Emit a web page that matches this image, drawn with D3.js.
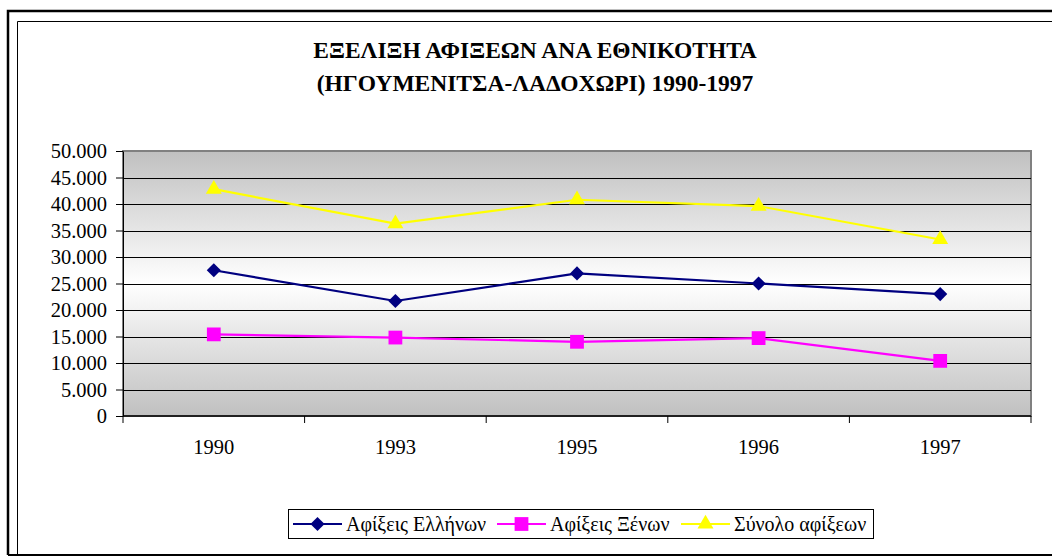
<!DOCTYPE html>
<html>
<head>
<meta charset="utf-8">
<script src="https://cdn.jsdelivr.net/npm/d3@7"></script>
<style>
  body { margin: 0; background: #fff; }
  svg { display: block; }
</style>
</head>
<body>
<div id="chart"></div>
<script>
// values
const years = ["1990", "1993", "1995", "1996", "1997"]
const greeks = [27500, 21700, 26900, 25000, 23000]
const foreigners = [15400, 14800, 14000, 14700, 10400]
const totals = [42800, 36300, 40800, 39600, 33300]
const yTicks = [0, 5000, 10000, 15000, 20000, 25000, 30000, 35000, 40000, 45000, 50000]
const seriesNames = ["Αφίξεις Ελλήνων", "Αφίξεις Ξένων", "Σύνολο αφίξεων"]
const titleLines = ["ΕΞΕΛΙΞΗ ΑΦΙΞΕΩΝ ΑΝΑ ΕΘΝΙΚΟΤΗΤΑ", "(ΗΓΟΥΜΕΝΙΤΣΑ-ΛΑΔΟΧΩΡΙ) 1990-1997"]

const width = 1052, height = 560
const margin = ({ top: 151, right: 21, bottom: 144, left: 123 })
const font = "'Liberation Serif', 'Times New Roman', 'DejaVu Serif', serif"

// diamond = square turned 45 degrees
const series = [
  { name: seriesNames[0], values: greeks, color: "#000080", shape: d3.symbolSquare, size: 100, rot: 45 },
  { name: seriesNames[1], values: foreigners, color: "#ff00ff", shape: d3.symbolSquare, size: 190, rot: 0 },
  { name: seriesNames[2], values: totals, color: "#ffff00", shape: d3.symbolTriangle, size: 110, rot: 0 }
]

const x = d3.scaleBand()
  .domain(years)
  .range([margin.left, width - margin.right])

const y = d3.scaleLinear()
  .domain([0, 50000])
  .range([height - margin.bottom, margin.top])

const gr = d3.formatLocale({ decimal: ",", thousands: ".", grouping: [3], currency: ["", "€"] })
const fmt = gr.format(",")

const svg = d3.create("svg")
  .attr("width", width)
  .attr("height", height)
  .attr("viewBox", [0, 0, width, height])
  .style("font-family", font)

// page frame
svg.append("path")
  .attr("d", "M8,555 L8,11 L1052,11")
  .attr("fill", "none").attr("stroke", "#000").attr("stroke-width", 2.5)
svg.append("line")
  .attr("x1", 8).attr("x2", 1052).attr("y1", 555).attr("y2", 555)
  .attr("stroke", "#000").attr("stroke-width", 2)
svg.append("path")
  .attr("d", "M17.5,556 L17.5,21.5 L1052,21.5")
  .attr("fill", "none").attr("stroke", "#000").attr("stroke-width", 1)

// title
svg.append("g")
  .attr("font-weight", "bold")
  .attr("font-size", 23.5)
  .attr("text-anchor", "middle")
  .selectAll("text")
  .data(titleLines)
  .join("text")
  .style("font-family", font)
  .attr("x", 535)
  .attr("y", (d, i) => 58 + i * 33)
  .text(d => d)

// plot background
const grad = svg.append("defs").append("linearGradient")
  .attr("id", "bg").attr("x1", 0).attr("x2", 0).attr("y1", 0).attr("y2", 1)
grad.selectAll("stop")
  .data([[0, "#c0c0c0"], [0.5, "#ffffff"], [1, "#c0c0c0"]])
  .join("stop")
  .attr("offset", d => d[0])
  .attr("stop-color", d => d[1])

const x0 = margin.left, x1 = width - margin.right
svg.append("rect")
  .attr("x", x0).attr("y", y(50000))
  .attr("width", x1 - x0).attr("height", y(0) - y(50000))
  .attr("fill", "url(#bg)")
  .attr("stroke", "#808080").attr("stroke-width", 2)

// gridlines
svg.append("g")
  .attr("stroke", "#000")
  .selectAll("line")
  .data(yTicks.filter(d => d > 0 && d < 50000))
  .join("line")
  .attr("x1", x0).attr("x2", x1)
  .attr("y1", d => Math.round(y(d)) + 0.5)
  .attr("y2", d => Math.round(y(d)) + 0.5)

// y axis
svg.append("g")
  .attr("transform", `translate(${x0},0)`)
  .call(d3.axisLeft(y).tickValues(yTicks).tickFormat(fmt).tickSize(7).tickPadding(9).tickSizeOuter(0))
  .call(g => g.selectAll("line").attr("stroke", "#000"))
  .call(g => g.select(".domain").attr("stroke", "#000"))
  .call(g => g.selectAll("text")
    .style("font-family", font).attr("font-size", 20.5).attr("fill", "#000"))

// x axis: ticks between categories, labels centred
const xAxis = svg.append("g")
  .attr("transform", `translate(0,${y(0)})`)
xAxis.append("line")
  .attr("x1", x0).attr("x2", x1)
  .attr("stroke", "#000").attr("stroke-width", 1.5)
xAxis.selectAll(".tick")
  .data(years.map(d => x(d)).concat([x1]))
  .join("line")
  .attr("x1", d => d).attr("x2", d => d)
  .attr("y1", 0).attr("y2", 7)
  .attr("stroke", "#000")
xAxis.selectAll("text")
  .data(years)
  .join("text")
  .attr("x", d => x(d) + x.bandwidth() / 2)
  .attr("y", 38)
  .attr("text-anchor", "middle")
  .style("font-family", font)
  .attr("font-size", 20.5)
  .text(d => d)

// lines and markers
const line = d3.line()
  .x((d, i) => x(years[i]) + x.bandwidth() / 2)
  .y(d => y(d))

const sg = svg.append("g")
  .selectAll("g")
  .data(series.slice().reverse())
  .join("g")

sg.append("path")
  .attr("d", d => line(d.values))
  .attr("fill", "none")
  .attr("stroke", d => d.color)
  .attr("stroke-width", 2.2)

sg.selectAll("path.m")
  .data(d => d.values.map((v, i) => ({ v, i, s: d })))
  .join("path")
  .attr("class", "m")
  .attr("transform", d => `translate(${x(years[d.i]) + x.bandwidth() / 2},${y(d.v)}) rotate(${d.s.rot})`)
  .attr("d", d => d3.symbol(d.s.shape, d.s.size)())
  .attr("fill", d => d.s.color)

// legend
const legend = svg.append("g")
legend.append("rect")
  .attr("x", 288.5).attr("y", 509.5)
  .attr("width", 585).attr("height", 29)
  .attr("fill", "#fff").attr("stroke", "#000")

const legendX = [293, 497, 681]
const items = legend.selectAll("g")
  .data(series)
  .join("g")
  .attr("transform", (d, i) => `translate(${legendX[i]},524)`)

items.append("line")
  .attr("x1", 0).attr("x2", 49)
  .attr("stroke", d => d.color).attr("stroke-width", 2.2)
items.append("path")
  .attr("transform", d => `translate(24.5,0) rotate(${d.rot})`)
  .attr("d", d => d3.symbol(d.shape, d.size)())
  .attr("fill", d => d.color)
items.append("text")
  .attr("x", 53)
  .attr("dy", "0.35em")
  .style("font-family", font)
  .attr("font-size", 20)
  .text(d => d.name)

d3.select("#chart").node().append(svg.node())
</script>
</body>
</html>
